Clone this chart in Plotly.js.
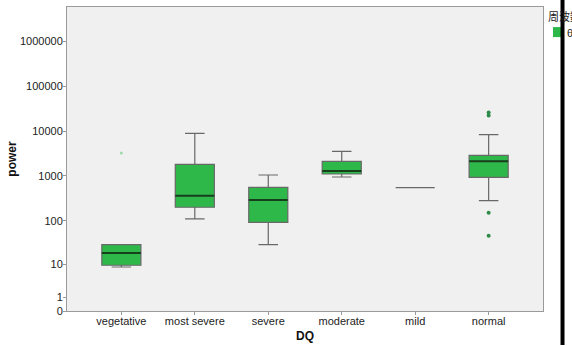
<!DOCTYPE html>
<html>
<head>
<meta charset="utf-8">
<script src="https://cdn.plot.ly/plotly-3.0.1.min.js"></script>
<style>
html,body{margin:0;padding:0;background:#fff;}
#chart{width:572px;height:346px;}
</style>
</head>
<body>
<div id="chart"></div>
<script>
// categories and box statistics (power values)
var categories = ["vegetative", "most severe", "severe", "moderate", "mild", "normal"];
var lowerWhisker = [8.5, 110, 29, 950, 549, 282];
var q1Values     = [9.4, 201, 92, 1108, 549, 935];
var medianValues = [18.4, 365, 292, 1290, 549, 2120];
var q3Values     = [29, 1820, 560, 2120, 549, 2880];
var upperWhisker = [29, 8890, 1052, 3540, 549, 8280];
// outliers
var outlierCats   = ["normal", "normal", "normal", "normal"];
var outlierValues = [25800, 22100, 152, 46];
var extremeCats   = ["vegetative"];
var extremeValues = [3240];
var tickValues = [0, 1, 10, 100, 1000, 10000, 100000, 1000000];
var tickLabels = ["0", "1", "10", "100", "1000", "10000", "100000", "1000000"];
var legendTitle = "周波数";
var seriesName = "θ";

function tr(v){ return Math.log10(v + 1); }

// categories whose box has a visible height get a dark median line
var medCats = [], medVals = [];
categories.forEach(function(c, i){
  if (q3Values[i] !== q1Values[i]) { medCats.push(c); medVals.push(tr(medianValues[i])); }
});

var traces = [
  {
    type: "box",
    name: seriesName,
    x: categories,
    lowerfence: lowerWhisker.map(tr),
    q1: q1Values.map(tr),
    median: medianValues.map(tr),
    q3: q3Values.map(tr),
    upperfence: upperWhisker.map(tr),
    fillcolor: "#2fb84a",
    line: {color: "#686868", width: 1.2},
    whiskerwidth: 0.5,
    boxpoints: false,
    hoverinfo: "skip",
    showlegend: false
  },
  {
    // dark median line drawn over the boxes
    type: "box",
    name: "median",
    x: medCats,
    lowerfence: medVals,
    q1: medVals,
    median: medVals,
    q3: medVals,
    upperfence: medVals,
    fillcolor: "rgba(0,0,0,0)",
    line: {color: "#163f1c", width: 2},
    whiskerwidth: 0,
    boxpoints: false,
    hoverinfo: "skip",
    showlegend: false
  },
  {
    type: "scatter", mode: "markers",
    x: outlierCats, y: outlierValues.map(tr),
    marker: {color: "#2e8b4a", size: 4},
    showlegend: false, hoverinfo: "skip"
  },
  {
    type: "scatter", mode: "markers",
    x: extremeCats, y: extremeValues.map(tr),
    marker: {color: "#9ed9a8", size: 3},
    showlegend: false, hoverinfo: "skip"
  }
];

var layout = {
  width: 572, height: 346,
  margin: {l: 67, r: 29, t: 7, b: 35, pad: 0, autoexpand: false},
  paper_bgcolor: "#ffffff",
  plot_bgcolor: "#f0f0f0",
  font: {family: "Liberation Sans, Arial, sans-serif", size: 11, color: "#222"},
  boxmode: "overlay",
  boxgap: 0.24,
  xaxis: {
    type: "category",
    categoryorder: "array", categoryarray: categories,
    range: [-0.74, 5.74],
    showgrid: false, zeroline: false,
    showline: true, linecolor: "#9a9a9a", linewidth: 1, mirror: true,
    ticks: "outside", ticklen: 3, tickcolor: "#9a9a9a",
    ticklabelstandoff: -3,
    tickfont: {size: 11, color: "#222"},
    title: {text: "<b>DQ</b>", font: {size: 12, color: "#111"}, standoff: 5}
  },
  yaxis: {
    range: [0, 6.756],
    showgrid: false, zeroline: false,
    showline: true, linecolor: "#9a9a9a", linewidth: 1, mirror: true,
    ticks: "outside", ticklen: 3, tickcolor: "#9a9a9a",
    ticklabelstandoff: -2,
    tickvals: tickValues.map(tr), ticktext: tickLabels,
    tickfont: {size: 11, color: "#222"},
    title: {text: "<b>power</b>", font: {size: 12, color: "#111"}, standoff: 0}
  },
  showlegend: false,
  annotations: [
    {xref: "paper", yref: "paper", x: 1.0063, y: 0.970, xanchor: "left", yanchor: "middle",
     text: legendTitle, showarrow: false,
     font: {size: 11, family: "Noto Sans CJK JP", color: "#222"}},
    {xref: "paper", yref: "paper", x: 1.046, y: 0.914, xanchor: "left", yanchor: "middle",
     text: seriesName, showarrow: false, font: {size: 11, color: "#222"}}
  ],
  shapes: [
    {type: "rect", xref: "paper", yref: "paper", x0: 1.021, x1: 1.040, y0: 0.901, y1: 0.934,
     fillcolor: "#2fb84a", line: {width: 0}},
    {type: "line", xref: "paper", yref: "paper", x0: 1.041, x1: 1.041, y0: -0.112, y1: 1.03,
     line: {color: "#000", width: 4}}
  ]
};

Plotly.newPlot("chart", traces, layout, {displayModeBar: false, staticPlot: true});
</script>
</body>
</html>
